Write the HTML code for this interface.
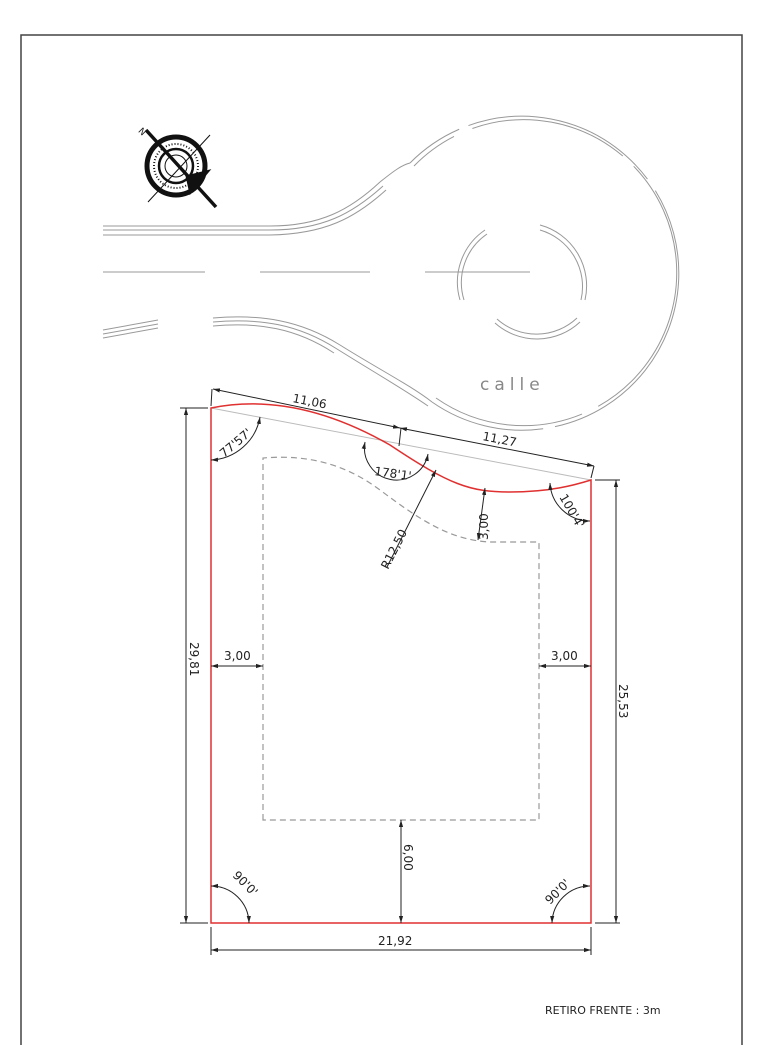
<!DOCTYPE html>
<html><head><meta charset="utf-8"><style>
html,body{margin:0;padding:0;background:#fff;width:762px;height:1045px;overflow:hidden}
svg{display:block}
text{font-family:"DejaVu Sans","Liberation Sans",sans-serif;fill:#222}
</style></head><body>
<svg width="762" height="1045" viewBox="0 0 762 1045" xmlns="http://www.w3.org/2000/svg">
<defs>
<marker id="a" viewBox="0 0 10 10" refX="10" refY="5" markerWidth="7" markerHeight="7" orient="auto-start-reverse"><path d="M0,2 L10,5 L0,8 z" fill="#222"/></marker>
</defs>
<path d="M21,1045 V35 H742 V1045" fill="none" stroke="#444" stroke-width="1.5"/>

<g fill="none" stroke="#999" stroke-width="1">
<path d="M410,163 A157,157 0 1 1 432,402" stroke-dasharray="60 10 200 14 300 12 400"/>
<path d="M414,166 A153,153 0 1 1 436,398" stroke-dasharray="50 20 160 15 280 18 400"/>
<path d="M103,226 H270 C320,226 350,210 380,182 C395,170 402,165 410,163"/>
<path d="M103,230 H270 C322,230 352,214 383,186"/>
<path d="M103,235 H270 C325,234 355,218 386,190"/>
<path d="M103,330 L158,320 M103,334 L158,324 M103,338 L158,328"/>
<path d="M213,318 C260,314 300,320 340,345 C380,370 410,385 432,402"/>
<path d="M213,322 C260,318 298,324 337,349 C377,374 405,390 428,406"/>
<path d="M213,326 C258,322 296,328 334,353"/>
<path d="M103,272 H205 M260,272 H370 M425,272 H530"/>
<path d="M460,300 A63,63 0 0 1 485,230 M464,300 A59,59 0 0 1 487,234"/>
<path d="M540,225 A63,63 0 0 1 585,300 M540,230 A59,59 0 0 1 581,300"/>
<path d="M495,323 A63,63 0 0 0 580,322 M497,319 A59,59 0 0 0 577,318"/>
</g>
<text x="480" y="390" font-size="17" style="fill:#888;letter-spacing:5px">calle</text>

<g fill="none" stroke="#111">
<circle cx="176" cy="166" r="29" stroke-width="5"/>
<circle cx="176" cy="166" r="22" stroke-width="2" stroke-dasharray="1 2"/>
<circle cx="176" cy="166" r="17" stroke-width="2.5"/>
<circle cx="176" cy="166" r="11" stroke-width="1"/>
<line x1="146" y1="130" x2="216" y2="207" stroke-width="3.5"/>
<line x1="148" y1="202" x2="210" y2="135" stroke-width="1"/>
<path d="M186,176 L210,170 L190,194 z" fill="#111"/>
</g>
<text x="140" y="134" font-size="9" transform="rotate(45 142 130)">N</text>

<line x1="211" y1="408" x2="591" y2="480" stroke="#bbb" stroke-width="1"/>

<path d="M263,820 V458 C300,455 340,460 380,490 C420,520 450,540 490,542 H539 V820 Z" fill="none" stroke="#999" stroke-width="1.2" stroke-dasharray="6 4"/>

<path d="M211,923 V408 C260,398 320,405 390,445 C450,485 470,492 510,492 C550,492 575,485 591,480 V923 Z" fill="none" stroke="#e03030" stroke-width="1.5"/>

<g stroke="#222" stroke-width="1" fill="none">
<line x1="186" y1="408" x2="186" y2="923" marker-start="url(#a)" marker-end="url(#a)"/>
<line x1="180" y1="408" x2="208" y2="408"/><line x1="180" y1="923" x2="208" y2="923"/>
<line x1="616" y1="480" x2="616" y2="923" marker-start="url(#a)" marker-end="url(#a)"/>
<line x1="595" y1="480" x2="620" y2="480"/><line x1="595" y1="923" x2="620" y2="923"/>
<line x1="211" y1="950" x2="591" y2="950" marker-start="url(#a)" marker-end="url(#a)"/>
<line x1="211" y1="927" x2="211" y2="955"/><line x1="591" y1="927" x2="591" y2="955"/>
<line x1="213" y1="389" x2="400" y2="428" marker-start="url(#a)" marker-end="url(#a)"/>
<line x1="212" y1="389" x2="211" y2="406"/>
<line x1="400" y1="428" x2="594" y2="466" marker-start="url(#a)" marker-end="url(#a)"/>
<line x1="401" y1="428" x2="399" y2="446"/><line x1="594" y1="466" x2="591" y2="478"/>
<line x1="211" y1="666" x2="263" y2="666" marker-start="url(#a)" marker-end="url(#a)"/>
<line x1="539" y1="666" x2="591" y2="666" marker-start="url(#a)" marker-end="url(#a)"/>
<line x1="401" y1="820" x2="401" y2="923" marker-start="url(#a)" marker-end="url(#a)"/>
<line x1="485" y1="488" x2="478" y2="540" marker-start="url(#a)" marker-end="url(#a)"/>
<line x1="436" y1="470" x2="387" y2="567" marker-start="url(#a)"/>
<path d="M211,460 A52,52 0 0 0 260,417" marker-start="url(#a)" marker-end="url(#a)"/>
<path d="M365,442 A30,30 0 0 0 428,454" marker-start="url(#a)" marker-end="url(#a)"/>
<path d="M550,483 A40,40 0 0 0 590,521" marker-start="url(#a)" marker-end="url(#a)"/>
<path d="M211,886 A38,38 0 0 1 249,923" marker-start="url(#a)" marker-end="url(#a)"/>
<path d="M552,923 A38,38 0 0 1 590,886" marker-start="url(#a)" marker-end="url(#a)"/>
</g>
<g font-size="12">
<text transform="translate(190,642) rotate(90)">29,81</text>
<text transform="translate(619,684) rotate(90)">25,53</text>
<text x="378" y="945">21,92</text>
<text transform="translate(292,402) rotate(11)">11,06</text>
<text transform="translate(482,440) rotate(11)">11,27</text>
<text x="224" y="660">3,00</text>
<text x="551" y="660">3,00</text>
<text transform="translate(404,844) rotate(90)">6,00</text>
<text transform="translate(488,540) rotate(-90)">3,00</text>
<text transform="translate(388,570) rotate(-63)">R12,50</text>
<text transform="translate(224,458) rotate(-40)">77'57'</text>
<text x="374" y="475" transform="rotate(8 374 475)">178'1'</text>
<text transform="translate(559,497) rotate(60)">100'4'</text>
<text transform="translate(232,876) rotate(45)">90'0'</text>
<text transform="translate(550,905) rotate(-45)">90'0'</text>
</g>
<text x="545" y="1014" font-size="11">RETIRO FRENTE : 3m</text>
</svg>
</body></html>
